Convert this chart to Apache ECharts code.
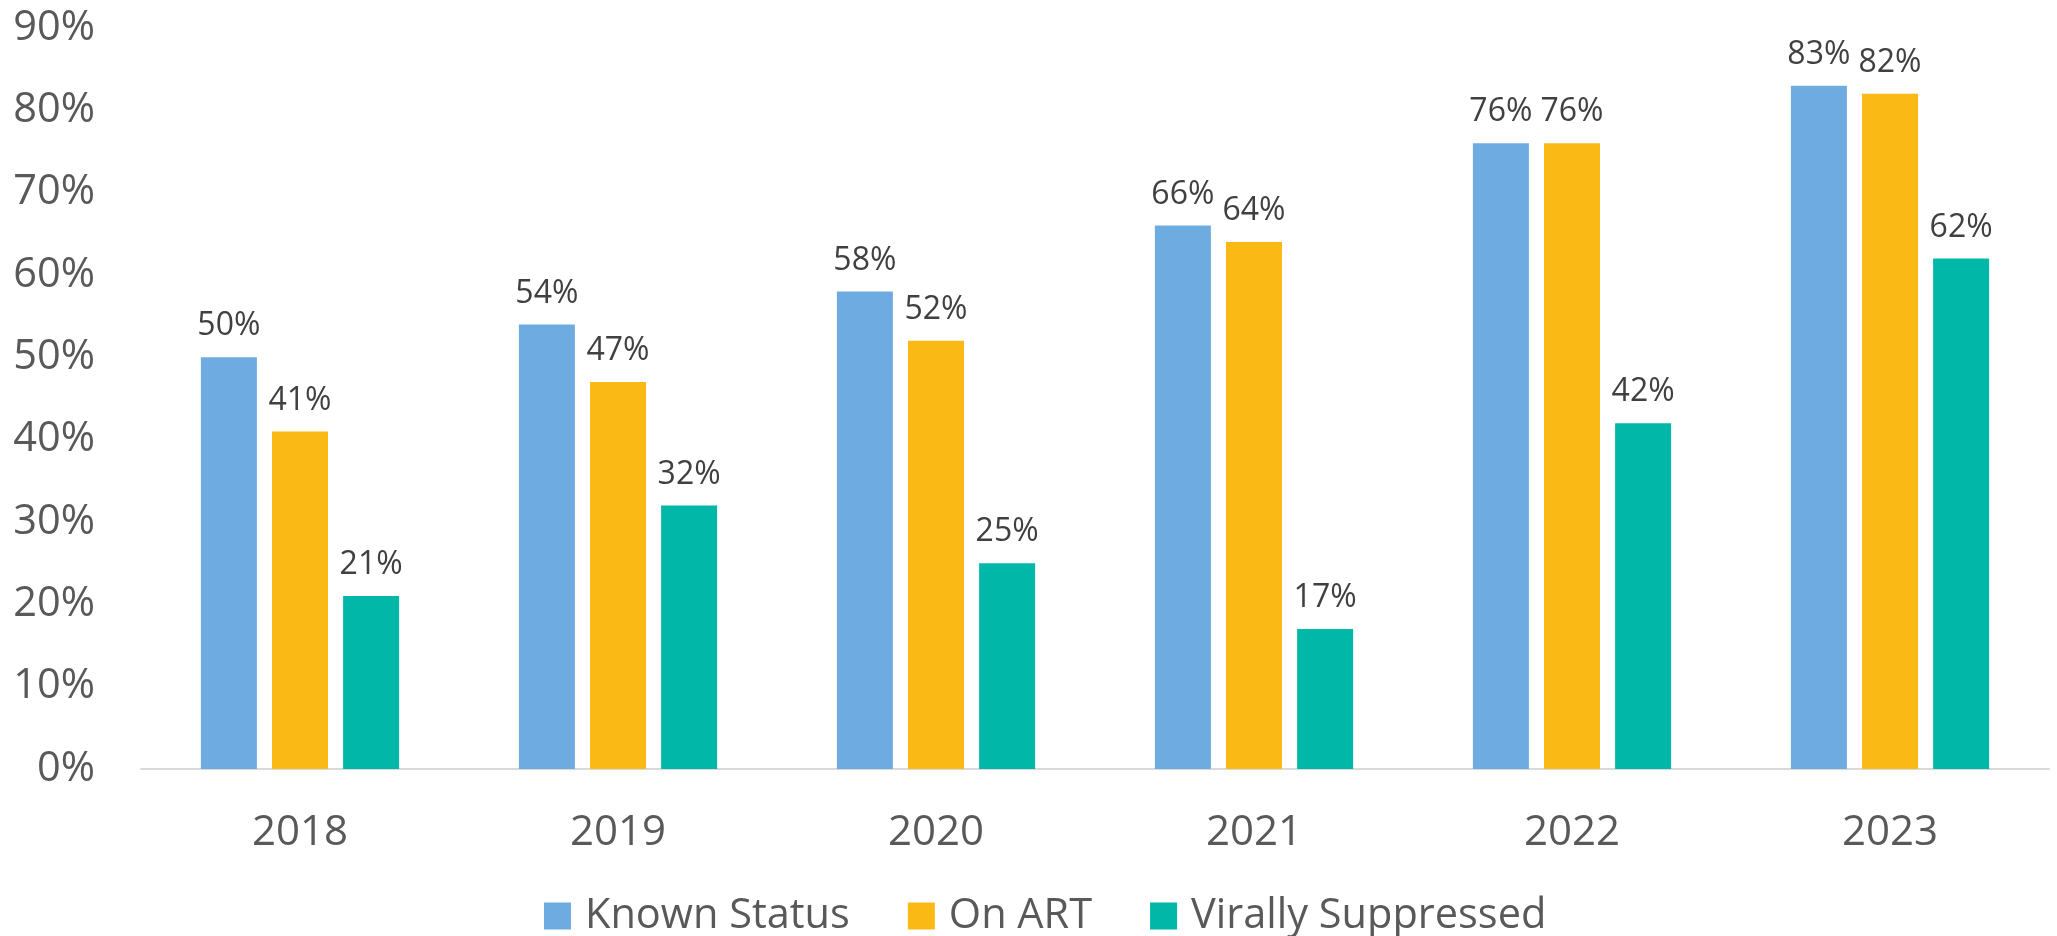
<!DOCTYPE html>
<html>
<head>
<meta charset="utf-8">
<script src="https://cdn.jsdelivr.net/npm/echarts@6/dist/echarts.min.js"></script>
<style>
html,body{margin:0;padding:0;background:#fff;}
#chart{width:2057px;height:936px;}
</style>
</head>
<body>
<div id="chart"></div>
<script>
const categories = ['2018', '2019', '2020', '2021', '2022', '2023'];
const knownStatus = [50, 54, 58, 66, 76, 83];
const onART = [41, 47, 52, 64, 76, 82];
const virallySuppressed = [21, 32, 25, 17, 42, 62];
const seriesNames = ['Known Status', 'On ART', 'Virally Suppressed'];
const colors = ['#6DABE1', '#FBB916', '#00B7A8'];

const FONT = '"Open Sans", "DejaVu Sans", sans-serif';
const chart = echarts.init(document.getElementById('chart'), null, {renderer: 'canvas'});

function makeSeries(name, data, color) {
  return {
    name: name,
    type: 'bar',
    data: data,
    barWidth: 56,
    barGap: '27%',
    itemStyle: {color: color},
    label: {
      show: true,
      position: 'top',
      distance: 15,
      formatter: '{c}%',
      color: '#404040',
      fontSize: 32,
      fontFamily: FONT
    }
  };
}

chart.setOption({
  animation: false,
  backgroundColor: '#ffffff',
  color: colors,
  grid: {left: 141, right: 8, top: 28, bottom: 167, containLabel: false},
  legend: {
    data: seriesNames,
    left: 539,
    top: 890,
    itemWidth: 27,
    itemHeight: 27,
    itemGap: 58,
    icon: 'rect',
    textStyle: {color: '#595959', fontSize: 41.5, fontFamily: FONT, padding: [0, 0, 0, 9]}
  },
  xAxis: {
    type: 'category',
    data: categories,
    axisLine: {show: true, lineStyle: {color: '#D9D9D9', width: 2}},
    axisTick: {show: false},
    axisLabel: {color: '#595959', fontSize: 42, fontFamily: FONT, margin: 43}
  },
  yAxis: {
    type: 'value',
    min: 0,
    max: 90,
    interval: 10,
    axisLine: {show: false},
    axisTick: {show: false},
    splitLine: {show: false},
    axisLabel: {formatter: '{value}%', color: '#595959', fontSize: 41.5, fontFamily: FONT, margin: 46}
  },
  series: [
    makeSeries(seriesNames[0], knownStatus, colors[0]),
    makeSeries(seriesNames[1], onART, colors[1]),
    makeSeries(seriesNames[2], virallySuppressed, colors[2])
  ]
});
</script>
</body>
</html>
